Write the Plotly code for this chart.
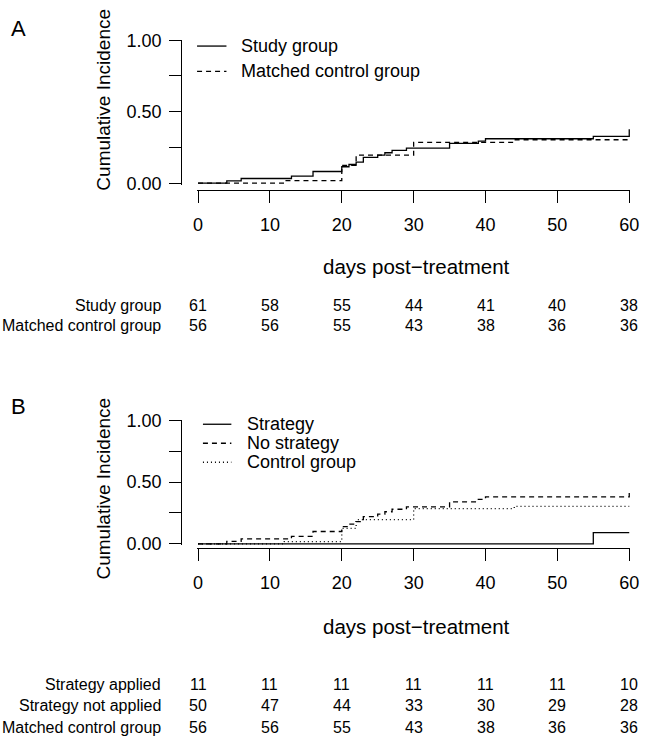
import plotly.graph_objects as go

# ---------------- data ----------------
# Panel A: cumulative incidence step curves
study_days = [0, 4, 6, 13, 16, 20, 21, 22, 23, 25, 26, 27, 29, 35, 39, 40, 55, 60]
study_ci = [0, 0.016, 0.033, 0.049, 0.082, 0.115, 0.131, 0.148, 0.180, 0.197, 0.213, 0.230,
            0.246, 0.279, 0.295, 0.311, 0.328, 0.377]
control_days = [0, 12, 20, 22, 30, 44, 60]
control_ci = [0, 0.018, 0.125, 0.196, 0.286, 0.304, 0.304]

# Panel B
strat_days = [0, 55, 60]
strat_ci = [0, 0.091, 0.091]
nostrat_days = [0, 4, 6, 13, 16, 20, 21, 22, 23, 25, 26, 27, 29, 35, 39, 40, 60]
nostrat_ci = [0, 0.02, 0.04, 0.06, 0.10, 0.14, 0.16, 0.18, 0.22, 0.24, 0.26, 0.28,
              0.30, 0.34, 0.36, 0.38, 0.44]

# Number-at-risk tables
risk_times = [0, 10, 20, 30, 40, 50, 60]
risk_A_labels = ["Study group", "Matched control group"]
risk_A_study = [61, 58, 55, 44, 41, 40, 38]
risk_A_control = [56, 56, 55, 43, 38, 36, 36]
risk_B_labels = ["Strategy applied", "Strategy not applied", "Matched control group"]
risk_B_applied = [11, 11, 11, 11, 11, 11, 10]
risk_B_notapplied = [50, 47, 44, 33, 30, 29, 28]
risk_B_control = [56, 56, 55, 43, 38, 36, 36]

x_ticks = [0, 10, 20, 30, 40, 50, 60]
y_ticks = [0, 0.25, 0.5, 0.75, 1.0]
y_ticktext = ["0.00", "", "0.50", "", "1.00"]

# ---------------- layout helpers ----------------
W, H = 650, 751
FONT = "Liberation Sans, Arial, Helvetica, sans-serif"


def px_x(p):
    return p / W


def px_y(p):
    return 1 - p / H


X0_PX, X60_PX = 198.0, 638.0
XS = (X60_PX - X0_PX) / 60.0
XR = [-0.15, 60.15]
xdom = [px_x(X0_PX + XR[0] * XS), px_x(X0_PX + XR[1] * XS)]

A0, A1 = 177.7, 31.0
B0, B1 = 547.7, 421.0
YR = [-0.012, 1.0]


def ydom(p0, p1):
    s = p0 - p1
    return [px_y(p0 - YR[0] * s), px_y(p0 - YR[1] * s)]


fig = go.Figure()
lw = 1.3
dash_style = "5px,4px"
dot_style = "1px,3px"

fig.add_trace(go.Scatter(x=study_days, y=study_ci, mode="lines", line=dict(color="black", width=lw, shape="hv"),
                         xaxis="x", yaxis="y", showlegend=False))
fig.add_trace(go.Scatter(x=control_days, y=control_ci, mode="lines",
                         line=dict(color="black", width=lw, shape="hv", dash=dash_style),
                         xaxis="x", yaxis="y", showlegend=False))
fig.add_trace(go.Scatter(x=strat_days, y=strat_ci, mode="lines", line=dict(color="black", width=lw, shape="hv"),
                         xaxis="x2", yaxis="y2", showlegend=False))
fig.add_trace(go.Scatter(x=nostrat_days, y=nostrat_ci, mode="lines",
                         line=dict(color="black", width=lw, shape="hv", dash=dash_style),
                         xaxis="x2", yaxis="y2", showlegend=False))
fig.add_trace(go.Scatter(x=control_days, y=control_ci, mode="lines",
                         line=dict(color="black", width=lw, shape="hv", dash=dot_style),
                         xaxis="x2", yaxis="y2", showlegend=False))

tickfont = dict(family=FONT, size=18, color="black")
xcommon = dict(range=XR, domain=xdom, tickmode="array", tickvals=x_ticks, ticks="outside", ticklen=12,
               tickwidth=1, tickcolor="black", showline=True, linecolor="black", linewidth=1,
               showgrid=False, zeroline=False, tickfont=tickfont, anchor="free", ticklabelstandoff=6)
ycommon = dict(range=YR, tickmode="array", tickvals=y_ticks, ticktext=y_ticktext, ticks="outside",
               ticklen=12, tickwidth=1, tickcolor="black", showline=True, linecolor="black", linewidth=1,
               showgrid=False, zeroline=False, tickfont=tickfont, anchor="free", position=px_x(180.7),
               ticklabelstandoff=4)

fig.update_layout(
    width=W, height=H, margin=dict(l=0, r=0, t=0, b=0),
    paper_bgcolor="white", plot_bgcolor="white", showlegend=False,
    font=dict(family=FONT, color="black"),
    xaxis=dict(xcommon, position=px_y(185)),
    yaxis=dict(ycommon, domain=ydom(A0, A1)),
    xaxis2=dict(xcommon, position=px_y(552)),
    yaxis2=dict(ycommon, domain=ydom(B0, B1)),
)

ann = []
shapes = []


def text(x, y, s, size, xanchor="center", angle=0):
    ann.append(dict(x=px_x(x), y=px_y(y), xref="paper", yref="paper", text=s, showarrow=False,
                    xanchor=xanchor, yanchor="middle", textangle=angle,
                    font=dict(family=FONT, size=size, color="black")))


# panel labels
text(15, 19, "A", 22)
text(15, 407, "B", 22)

# axis titles
text(102, 92, "Cumulative Incidence", 19, angle=-90)
text(102, 491, "Cumulative Incidence", 19, angle=-90)
text(421, 263, "days post\u2212treatment", 20.5)
text(421, 632, "days post\u2212treatment", 20.5)

# legends
legA = [("Study group", None, 37), ("Matched control group", dash_style, 63)]
for lbl, d, yy in legA:
    shapes.append(dict(type="line", xref="paper", yref="paper", x0=px_x(197), x1=px_x(227), y0=px_y(yy), y1=px_y(yy),
                       line=dict(color="black", width=lw, dash=d) if d else dict(color="black", width=lw)))
    text(240, yy, lbl, 18, xanchor="left")
legB = [("Strategy", None, 425), ("No strategy", dash_style, 444.5), ("Control group", dot_style, 464)]
for lbl, d, yy in legB:
    shapes.append(dict(type="line", xref="paper", yref="paper", x0=px_x(203), x1=px_x(232), y0=px_y(yy), y1=px_y(yy),
                       line=dict(color="black", width=lw, dash=d) if d else dict(color="black", width=lw)))
    text(246, yy, lbl, 18, xanchor="left")

# risk tables
TABLE_FS = 16
LABEL_RIGHT = 162


def table_row(y, label, values):
    text(LABEL_RIGHT, y, label, TABLE_FS, xanchor="right")
    for t, v in zip(risk_times, values):
        text(X0_PX + t * XS, y, str(v), TABLE_FS)


table_row(303, risk_A_labels[0], risk_A_study)
table_row(324, risk_A_labels[1], risk_A_control)
table_row(692, risk_B_labels[0], risk_B_applied)
table_row(714, risk_B_labels[1], risk_B_notapplied)
table_row(736, risk_B_labels[2], risk_B_control)

fig.update_layout(annotations=ann, shapes=shapes)

fig.write_html("out.html", config={"responsive": False, "displayModeBar": False},
               post_script="document.body.style.margin='0';document.body.style.overflow='hidden';")
